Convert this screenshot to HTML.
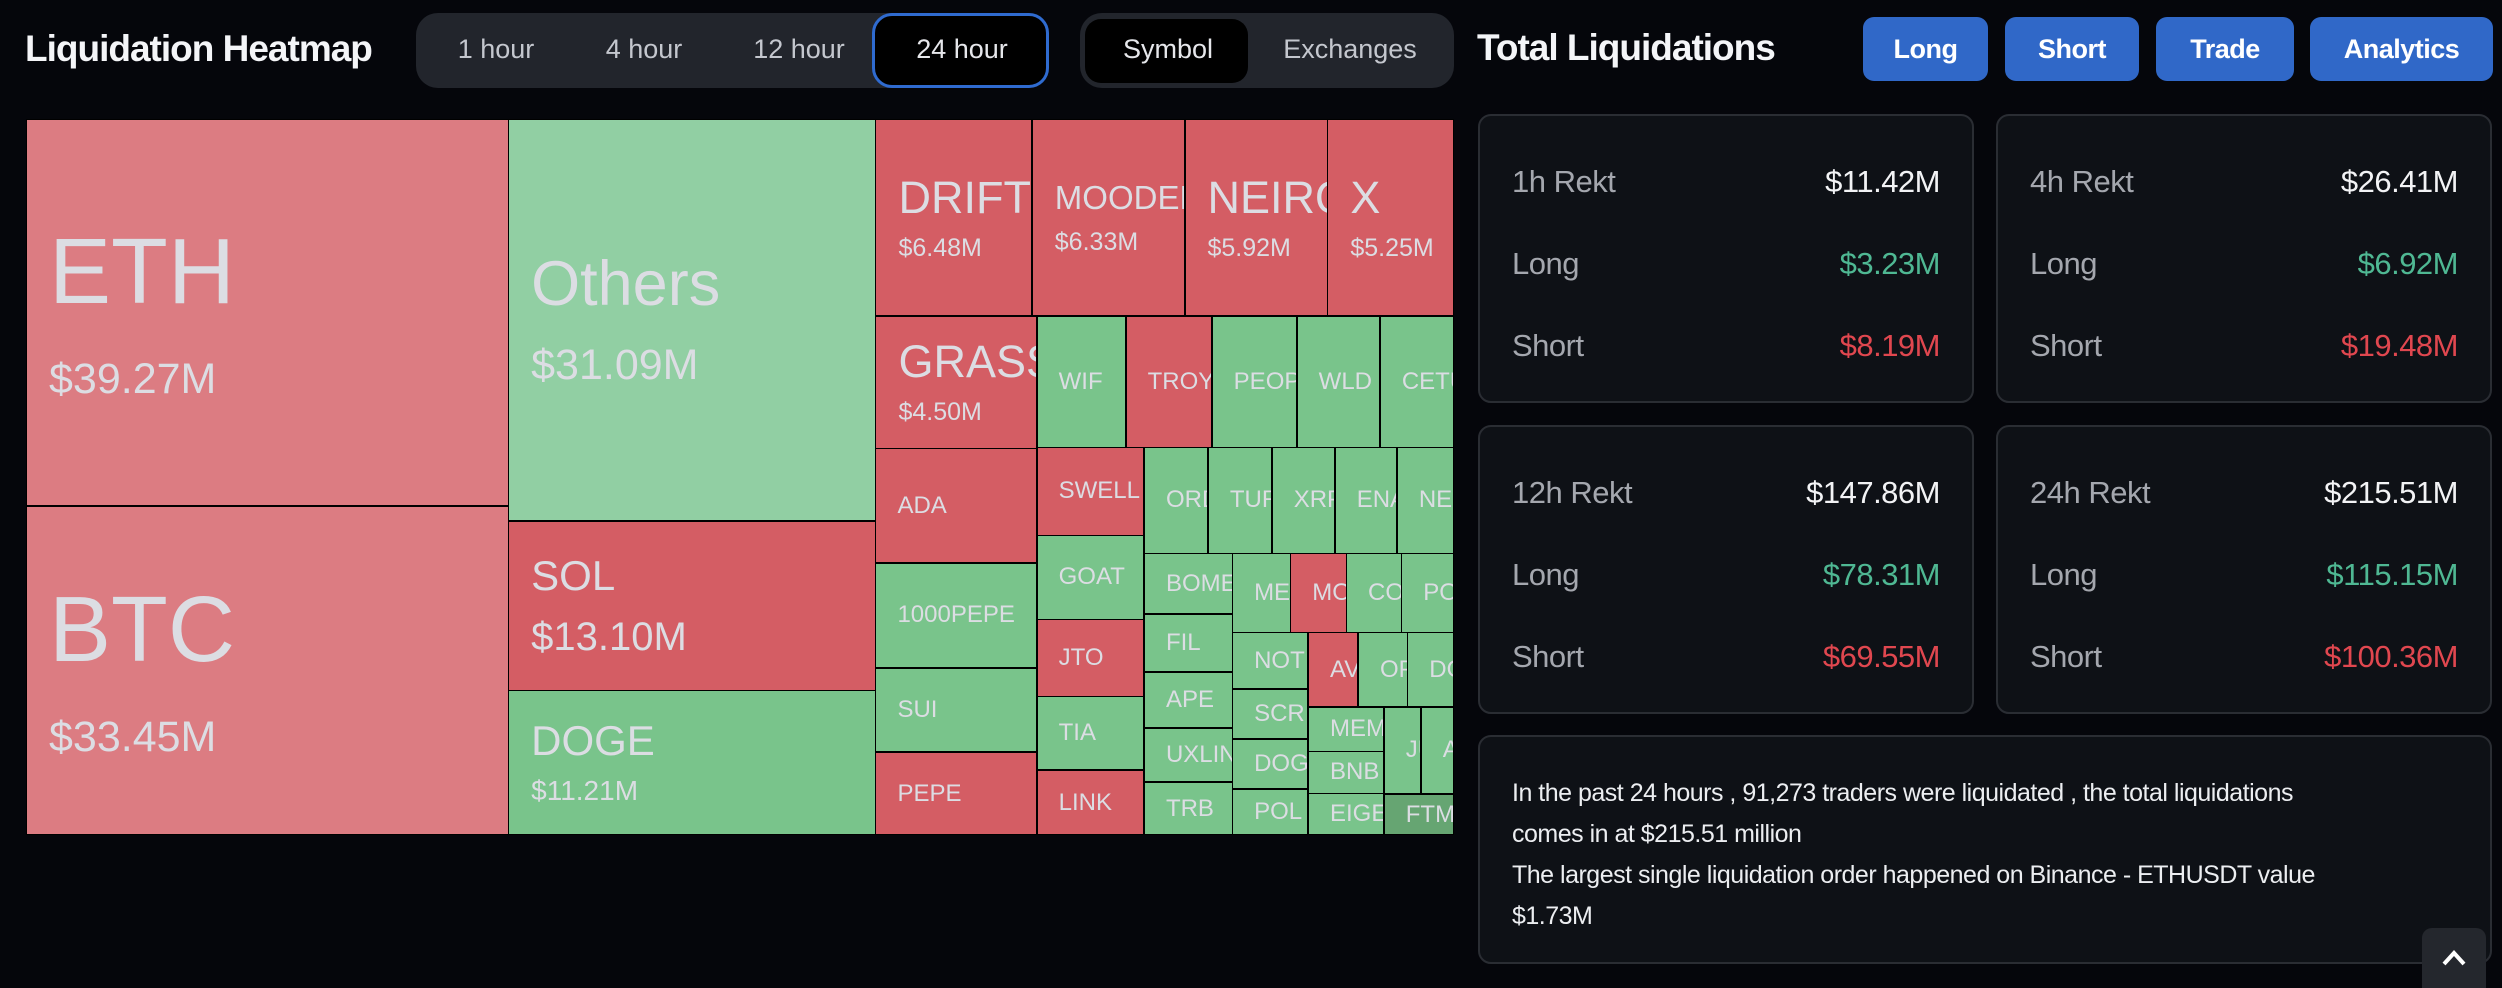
<!DOCTYPE html>
<html><head><meta charset="utf-8">
<style>
*{box-sizing:border-box;margin:0;padding:0}
body{width:2502px;height:986px;background:#05060b;font-family:"Liberation Sans",sans-serif;position:relative;overflow:hidden;color:#fff}
.abs{position:absolute}
.title{font-weight:bold;font-size:37px;letter-spacing:-1px;color:#f4f5f8;white-space:nowrap}
.tabs{background:#22252c;border-radius:22px}
.tab{position:absolute;font-size:27px;color:#c4c7ce;transform:translateX(-50%);top:21px;white-space:nowrap}
.btn{background:#3068c8;border-radius:11px;color:#fff;font-weight:bold;font-size:27px;display:flex;align-items:center;justify-content:center;letter-spacing:-0.5px}
.card{background:#0e1116;border:2px solid #2a2d33;border-radius:13px}
.row{position:absolute;left:32px;right:32px;font-size:31px;display:flex;justify-content:space-between;letter-spacing:-0.5px}
.lab{color:#a4a7ae}
#tm{position:absolute;left:26px;top:119px;width:1428px;height:716px;background:#000}
.cell{position:absolute;border:1px solid #000;overflow:hidden;color:#dcdde3}
.sm{position:absolute;left:21px;top:50%;transform:translateY(-50%);font-size:24px;white-space:nowrap}
.bg{position:absolute;left:22px;top:0;bottom:0;display:flex;flex-direction:column;justify-content:center;white-space:nowrap}
</style></head><body>
<div class="abs title" style="left:25px;top:28px">Liquidation Heatmap</div>
<div class="abs tabs" style="left:416px;top:13px;width:633px;height:75px">
 <div class="abs" style="left:456px;top:0;width:177px;height:75px;border:3px solid #2f6bd0;border-radius:20px;background:#000"></div>
 <div class="tab" style="left:80px">1 hour</div>
 <div class="tab" style="left:228px">4 hour</div>
 <div class="tab" style="left:383px">12 hour</div>
 <div class="tab" style="left:546px;color:#e6e7eb">24 hour</div>
</div>
<div class="abs tabs" style="left:1080px;top:13px;width:374px;height:75px">
 <div class="abs" style="left:5px;top:6px;width:163px;height:64px;background:#000;border-radius:16px"></div>
 <div class="tab" style="left:88px;color:#e6e7eb">Symbol</div>
 <div class="tab" style="left:270px">Exchanges</div>
</div>
<div id="tm"></div>

<div class="abs title" style="left:1477px;top:27px">Total Liquidations</div>
<div class="abs btn" style="left:1863px;top:17px;width:125px;height:64px">Long</div>
<div class="abs btn" style="left:2005px;top:17px;width:134px;height:64px">Short</div>
<div class="abs btn" style="left:2156px;top:17px;width:138px;height:64px">Trade</div>
<div class="abs btn" style="left:2310px;top:17px;width:183px;height:64px">Analytics</div>

<div id="cards"></div>

<div class="abs card" style="left:1478px;top:735px;width:1014px;height:229px">
 <div class="abs" style="left:32px;top:36px;white-space:nowrap;font-size:25px;line-height:41px;color:#eceef1;letter-spacing:-0.5px">In the past 24 hours , 91,273 traders were liquidated , the total liquidations<br>comes in at $215.51 million<br>The largest single liquidation order happened on Binance - ETHUSDT value<br>$1.73M</div>
</div>
<div class="abs" style="left:2422px;top:928px;width:64px;height:60px;background:#24272d;border-radius:10px 10px 0 0;display:flex;align-items:center;justify-content:center">
 <svg width="26" height="18" viewBox="0 0 26 18"><path d="M3 15 L13 4 L23 15" stroke="#fff" stroke-width="4" fill="none"/></svg>
</div>

<script>
// ---- treemap data ----
const names = ["ETH","BTC","Others","SOL","DOGE","DRIFT","MOODENG","NEIRO","X","GRASS","ADA","1000PEPE","SUI","PEPE","WIF","TROY","PEOPLE","WLD","CETUS","SWELL","GOAT","JTO","TIA","LINK","ORDI","TURBO","XRP","ENA","NEIROETH","BOME","FIL","APE","UXLINK","TRB","MEW","MOTHER","COW","POPCAT","NOT","SCR","DOGS","POL","AVAAI","OP","DOT","MEME","BNB","EIGEN","JUP","AAVE","FTM"];
const values = [39.27,33.45,31.09,13.10,11.21,6.48,6.33,5.92,5.25,4.50,3.88,3.57,2.86,2.82,2.46,2.38,2.35,2.30,2.05,1.99,1.90,1.74,1.67,1.47,1.43,1.43,1.41,1.39,1.28,1.12,1.08,1.04,1.00,0.99,0.97,0.93,0.92,0.88,0.90,0.80,0.80,0.74,0.78,0.77,0.73,0.71,0.67,0.67,0.68,0.61,0.61];
const sides = ["s","s","l","s","l","s","s","s","s","s","s","l","l","s","l","s","l","l","l","s","l","s","l","s","l","l","l","l","l","l","l","l","l","l","l","s","l","l","l","l","l","l","s","l","l","l","l","l","l","l","l"];
const showValue = ["ETH","BTC","Others","SOL","DOGE","DRIFT","MOODENG","NEIRO","X","GRASS"];
// layout structure (split direction + child order), not coordinates
const tree = {d:'h',c:[{d:'v',c:[0,1]},{d:'v',c:[2,3,4]},{d:'v',c:[{d:'h',c:[5,6,7,8]},{d:'h',c:[{d:'v',c:[9,10,11,12,13]},{d:'v',c:[{d:'h',c:[14,15,16,17,18]},{d:'h',c:[{d:'v',c:[19,20,21,22,23]},{d:'v',c:[{d:'h',c:[24,25,26,27,28]},{d:'h',c:[{d:'v',c:[29,30,31,32,33]},{d:'v',c:[{d:'h',c:[34,35,36,37]},{d:'h',c:[{d:'v',c:[38,39,40,41]},{d:'v',c:[{d:'h',c:[42,43,44]},{d:'h',c:[{d:'v',c:[45,46,47]},{d:'v',c:[{d:'h',c:[48,49]},50]}]}]}]}]}]}]}]}]}]}]}]};

// style lookups
const fontMap = {ETH:[93,43,40],BTC:[93,43,40],Others:[63,43,28],SOL:[42,40,20],DOGE:[42,28,15],DRIFT:[45,25,16],MOODENG:[33,25,16],NEIRO:[45,25,16],X:[45,25,16],GRASS:[45,25,16]};
const colorMap = {ETH:"#dc7c82",BTC:"#dc7c82",Others:"#91cfa3",FTM:"#66a572"};
const W = 1428, H = 716;
const tm = document.getElementById('tm');
function sum(n){return typeof n==='number'?values[n]:n.c.reduce((a,b)=>a+sum(b),0);}
function layout(n,x,y,w,h){
  if(typeof n==='number'){draw(n,x,y,w,h);return;}
  const t=sum(n);let off=0;
  n.c.forEach(ch=>{const f=sum(ch)/t;
    if(n.d==='h'){layout(ch,x+off,y,w*f,h);off+=w*f;}else{layout(ch,x,y+off,w,h*f);off+=h*f;}});
}
function draw(i,x,y,w,h){
  const el=document.createElement('div');
  el.className='cell';
  
  
  el.style.left=x+'px';el.style.top=y+'px';el.style.width=(w+0.5)+'px';el.style.height=(h+0.5)+'px';
  el.style.background=colorMap[names[i]]||(sides[i]==='s'?'#d45d64':'#79c48b');
  if(showValue.includes(names[i])){
    const f=fontMap[names[i]];
    const b=document.createElement('div');b.className='bg';
    
    
    const a=document.createElement('div');a.textContent=names[i];a.style.fontSize=f[0]+'px';a.style.lineHeight='1';
    
    
    const v=document.createElement('div');v.textContent='$'+values[i].toFixed(2)+'M';v.style.fontSize=f[1]+'px';v.style.lineHeight='1';v.style.marginTop=f[2]+'px';
    
    
    b.appendChild(a);b.appendChild(v);el.appendChild(b);
  } else {
    const s=document.createElement('div');s.className='sm';s.textContent=names[i];
    
    
    el.appendChild(s);
  }
  tm.appendChild(el);
}
layout(tree,0,0,W,H);

// ---- stat cards ----
const periods = ["1h","4h","12h","24h"];
const rekt = ["$11.42M","$26.41M","$147.86M","$215.51M"];
const longs = ["$3.23M","$6.92M","$78.31M","$115.15M"];
const shorts = ["$8.19M","$19.48M","$69.55M","$100.36M"];
const cards=document.getElementById('cards');
periods.forEach((p,i)=>{
  const c=document.createElement('div');c.className='abs card';
  
  
  c.style.left=(i%2?1996:1478)+'px';c.style.top=(i<2?114:425)+'px';c.style.width='496px';c.style.height='289px';
  const rows=[[p+' Rekt',rekt[i],'#f2f3f5'],['Long',longs[i],'#4fb893'],['Short',shorts[i],'#e0474f']];
  rows.forEach((r,j)=>{
    const d=document.createElement('div');d.className='row';d.style.top=(48+j*82)+'px';
    
    
    d.innerHTML='<span class="lab">'+r[0]+'</span><span style="color:'+r[2]+'">'+r[1]+'</span>';
    c.appendChild(d);
  });
  cards.appendChild(c);
});
</script>
</body></html>
